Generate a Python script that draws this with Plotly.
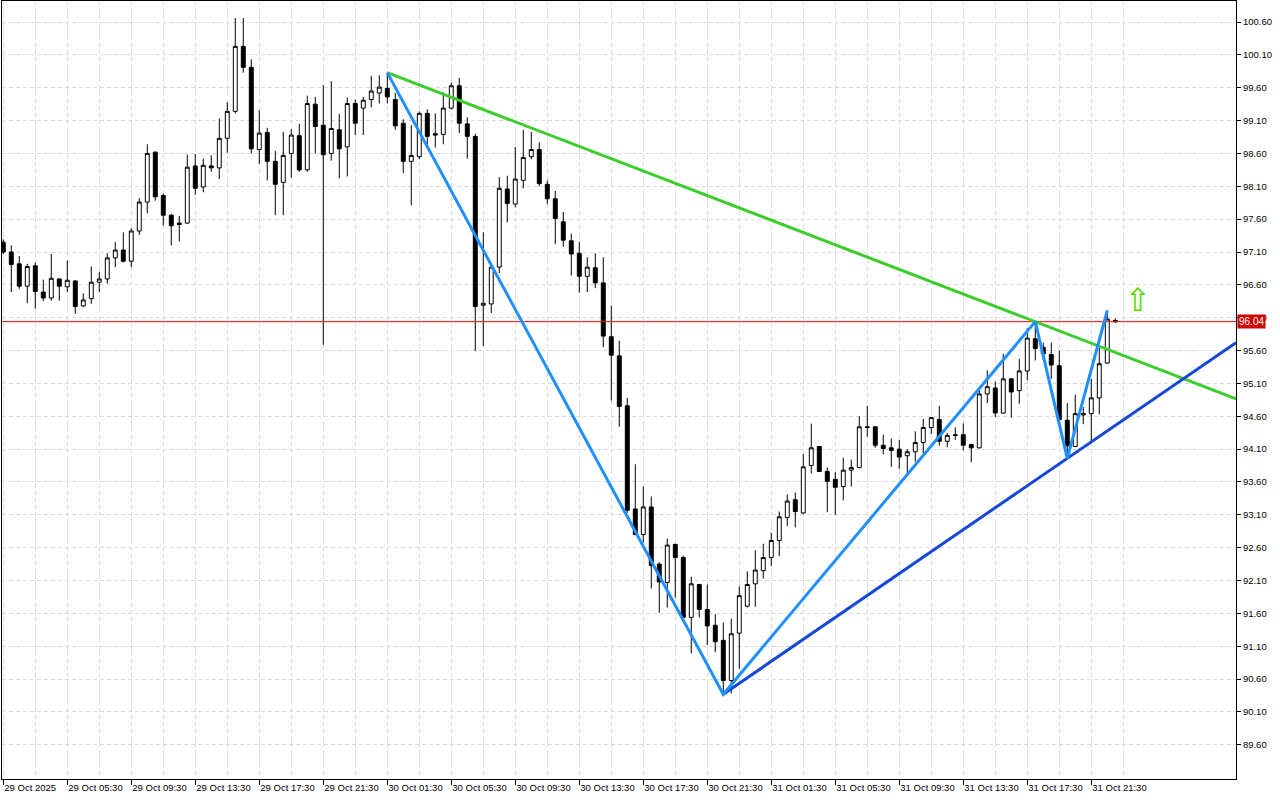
import plotly.graph_objects as go

# ---------------- data ----------------
time_labels = ["29 Oct 2025", "29 Oct 05:30", "29 Oct 09:30", "29 Oct 13:30", "29 Oct 17:30",
               "29 Oct 21:30", "30 Oct 01:30", "30 Oct 05:30", "30 Oct 09:30", "30 Oct 13:30",
               "30 Oct 17:30", "30 Oct 21:30", "31 Oct 01:30", "31 Oct 05:30", "31 Oct 09:30",
               "31 Oct 13:30", "31 Oct 17:30", "31 Oct 21:30"]
label_bars = list(range(0, 137, 8))

opens = [97.25, 97.10, 96.92, 96.58, 96.89, 96.49, 96.40, 96.69, 96.57, 96.66,
         96.28, 96.39, 96.64, 96.69, 97.01, 97.13, 96.96, 97.42, 97.86, 98.62,
         97.96, 97.66, 97.54, 97.54, 98.41, 98.09, 98.41, 98.38, 98.83, 99.24,
         100.23, 99.91, 98.66, 98.92, 98.48, 98.16, 98.60, 98.87, 98.35, 99.35,
         99.03, 98.60, 98.96, 98.70, 99.36, 99.29, 99.42, 99.52, 99.59, 99.42,
         99.06, 98.48, 98.55, 99.21, 98.90, 98.89, 99.29, 99.63, 99.05, 98.86,
         96.29, 96.31, 96.87, 98.06, 97.83, 98.19, 98.55, 98.66, 98.13, 97.91,
         97.56, 97.27, 97.08, 96.73, 96.86, 96.63, 95.81, 95.52, 94.76, 93.19,
         92.80, 93.22, 92.35, 92.07, 92.65, 92.45, 91.54, 92.04, 91.66, 91.42,
         91.19, 90.58, 91.30, 91.71, 92.05, 92.25, 92.45, 92.71, 93.06, 93.33,
         93.13, 93.85, 94.14, 93.76, 93.64, 93.53, 93.78, 93.82, 94.44, 94.44,
         94.16, 94.12, 94.10, 94.00, 94.06, 94.20, 94.43, 94.55, 94.22, 94.32,
         94.32, 94.17, 94.12, 94.94, 95.03, 94.65, 95.17, 94.99, 95.29, 95.78,
         95.65, 95.54, 95.37, 94.54, 94.14, 94.62, 94.64, 94.88, 95.41, 96.06]
highs = [97.29, 97.20, 97.04, 96.92, 96.94, 96.68, 97.07, 96.70, 96.97, 96.67,
         96.47, 96.88, 96.80, 97.08, 97.25, 97.40, 97.46, 97.92, 98.74, 98.63,
         97.99, 97.68, 97.65, 98.58, 98.59, 98.52, 98.57, 99.13, 99.38, 100.66,
         100.66, 100.03, 99.26, 98.99, 98.64, 98.93, 98.97, 99.05, 99.48, 99.46,
         99.64, 99.70, 99.20, 99.45, 99.42, 99.46, 99.78, 99.79, 99.83, 99.52,
         99.12, 99.03, 99.24, 99.27, 99.21, 99.53, 99.68, 99.75, 99.15, 98.90,
         97.40, 96.88, 98.24, 98.26, 98.70, 98.96, 98.93, 98.77, 98.19, 98.03,
         97.71, 97.38, 97.25, 97.02, 97.08, 97.02, 96.28, 95.75, 94.88, 93.87,
         93.53, 93.38, 92.38, 92.74, 92.66, 92.48, 92.16, 92.05, 92.04, 91.59,
         91.46, 91.52, 92.01, 92.24, 92.56, 92.66, 92.83, 93.15, 93.41, 93.44,
         94.03, 94.49, 94.15, 93.82, 93.75, 93.97, 93.94, 94.60, 94.76, 94.45,
         94.32, 94.26, 94.24, 94.10, 94.37, 94.56, 94.59, 94.76, 94.35, 94.43,
         94.49, 94.18, 94.99, 95.30, 95.13, 95.55, 95.18, 95.47, 95.94, 96.04,
         95.72, 95.72, 95.60, 94.80, 94.93, 94.74, 95.17, 95.64, 96.21, 96.09]
lows = [97.07, 96.49, 96.54, 96.32, 96.24, 96.35, 96.36, 96.36, 96.49, 96.16,
        96.26, 96.31, 96.49, 96.62, 96.87, 96.94, 96.87, 97.36, 97.69, 97.88,
        97.50, 97.20, 97.26, 97.53, 97.97, 98.01, 98.32, 98.21, 98.61, 99.21,
        99.83, 98.60, 98.44, 98.19, 97.66, 97.66, 98.23, 98.32, 98.32, 98.60,
        95.69, 98.49, 98.22, 98.25, 98.88, 98.88, 99.30, 99.36, 99.36, 98.96,
        98.30, 97.81, 98.51, 98.73, 98.69, 98.74, 99.27, 98.91, 98.52, 95.59,
        95.67, 96.17, 96.78, 97.55, 97.78, 98.07, 98.51, 98.10, 97.83, 97.22,
        97.18, 96.74, 96.48, 96.49, 96.55, 95.65, 94.84, 94.44, 93.13, 92.79,
        92.68, 91.98, 91.61, 91.69, 91.84, 91.53, 90.99, 91.54, 91.12, 91.01,
        90.37, 90.38, 90.76, 91.69, 91.70, 92.13, 92.32, 92.47, 92.93, 92.91,
        93.11, 93.73, 93.75, 93.14, 93.10, 93.32, 93.53, 93.81, 94.29, 94.12,
        94.02, 93.83, 93.80, 93.74, 93.91, 94.04, 94.33, 94.15, 94.13, 94.24,
        94.08, 93.90, 94.11, 94.80, 94.59, 94.64, 94.58, 94.79, 95.15, 95.45,
        95.46, 95.17, 94.54, 93.96, 94.13, 94.48, 94.22, 94.63, 95.40, 96.02]
closes = [97.10, 96.91, 96.58, 96.88, 96.50, 96.40, 96.70, 96.58, 96.67, 96.27,
          96.37, 96.64, 96.69, 97.01, 97.13, 96.96, 97.42, 97.86, 98.60, 97.94,
          97.66, 97.50, 97.52, 98.39, 98.07, 98.42, 98.38, 98.83, 99.24, 100.23,
          99.91, 98.67, 98.91, 98.48, 98.13, 98.57, 98.88, 98.35, 99.36, 99.01,
          98.58, 98.98, 98.67, 99.36, 99.06, 99.41, 99.55, 99.61, 99.46, 99.02,
          98.48, 98.57, 99.21, 98.86, 98.88, 99.29, 99.63, 99.06, 98.86, 96.27,
          96.32, 96.87, 98.07, 97.84, 98.21, 98.54, 98.66, 98.14, 97.91, 97.61,
          97.28, 97.07, 96.73, 96.87, 96.63, 95.82, 95.53, 94.75, 93.17, 92.80,
          93.22, 92.33, 92.08, 92.64, 92.45, 91.54, 92.05, 91.66, 91.41, 91.17,
          90.58, 91.29, 91.87, 92.04, 92.26, 92.45, 92.71, 93.07, 93.31, 93.15,
          93.83, 94.12, 93.76, 93.61, 93.52, 93.78, 93.82, 94.44, 94.43, 94.16,
          94.11, 94.08, 93.98, 94.06, 94.20, 94.43, 94.58, 94.22, 94.31, 94.31,
          94.16, 94.12, 94.94, 95.05, 94.65, 95.17, 94.97, 95.29, 95.79, 95.63,
          95.55, 95.38, 94.55, 94.15, 94.64, 94.64, 94.88, 95.40, 96.08, 96.04]
bars = list(range(len(closes)))

zigzag_bars = [48, 90, 129, 133, 138]
zigzag_prices = [99.83, 90.37, 96.04, 93.96, 96.21]
resistance_bars = [48, 129]
resistance_prices = [99.83, 96.04]
support_bars = [90, 133]
support_prices = [90.37, 93.96]
signal_bar = [141.8]
signal_price = [96.33]

price_ticks = [89.6 + 0.5 * k for k in range(23)]

# ---------------- view ----------------
X_MIN, X_MAX = -0.16, 154.09
Y_MIN, Y_MAX = 89.08, 100.92


def extend(bx, py, x_end):
    slope = (py[1] - py[0]) / (bx[1] - bx[0])
    return [bx[0], x_end], [py[0], py[1] + slope * (x_end - bx[1])]


FONT = "Liberation Sans"
GRID = "#dadada"

fig = go.Figure()

# current price line
fig.add_trace(go.Scatter(x=[X_MIN, X_MAX], y=[closes[-1], closes[-1]], mode="lines",
                         line=dict(color="#ff0000", width=1), hoverinfo="skip", showlegend=False))

fig.add_trace(go.Candlestick(
    x=bars, open=opens, high=highs, low=lows, close=closes,
    increasing=dict(line=dict(color="black", width=1), fillcolor="white"),
    decreasing=dict(line=dict(color="black", width=1), fillcolor="black"),
    whiskerwidth=0, showlegend=False))

rx, ry = extend(resistance_bars, resistance_prices, X_MAX)
fig.add_trace(go.Scatter(x=rx, y=ry, mode="lines", line=dict(color="#3ccc2c", width=3),
                         hoverinfo="skip", showlegend=False))
sx, sy = extend(support_bars, support_prices, X_MAX)
fig.add_trace(go.Scatter(x=sx, y=sy, mode="lines", line=dict(color="#1448d8", width=3),
                         hoverinfo="skip", showlegend=False))
fig.add_trace(go.Scatter(x=zigzag_bars, y=zigzag_prices, mode="lines",
                         line=dict(color="#1e90ff", width=3), hoverinfo="skip", showlegend=False))

fig.add_trace(go.Scatter(x=signal_bar, y=signal_price, mode="text", text=["⇧"],
                         textfont=dict(family="DejaVu Sans", size=32, color="#5ad800"),
                         textposition="middle center", hoverinfo="skip", showlegend=False))

fig.add_annotation(xref="paper", x=1, xanchor="left", xshift=1, yref="y", y=closes[-1],
                   text=f"{closes[-1]:.2f}", showarrow=False, bgcolor="#d40000",
                   font=dict(family=FONT, size=10, color="white"), borderpad=1)

fig.update_layout(
    width=1280, height=800,
    margin=dict(l=2, r=44, t=1, b=21, autoexpand=False),
    paper_bgcolor="white", plot_bgcolor="white",
    font=dict(family=FONT, size=9.5, color="black"),
    showlegend=False,
    xaxis=dict(range=[X_MIN, X_MAX], rangeslider=dict(visible=False), automargin=False,
               tickmode="array", tickvals=label_bars, ticktext=time_labels, tickangle=0,
               ticks="outside", ticklen=5, tickcolor="black",
               ticklabelposition="outside right",
               showline=True, linecolor="black", linewidth=1, mirror=True,
               showgrid=True, gridcolor=GRID, griddash="4px,3px", zeroline=False,
               minor=dict(tickmode="array", tickvals=[b + 4 for b in label_bars],
                          showgrid=True, gridcolor=GRID, griddash="4px,3px", ticks="")),
    yaxis=dict(range=[Y_MIN, Y_MAX], side="right", automargin=False,
               tickmode="array", tickvals=price_ticks,
               ticktext=[f"{v:.2f}" for v in price_ticks],
               ticks="outside", ticklen=4, tickcolor="black",
               showline=True, linecolor="black", linewidth=1, mirror=True,
               showgrid=True, gridcolor=GRID, griddash="4px,3px", zeroline=False),
)

fig.write_html("out.html", config={"displayModeBar": False},
               post_script="document.body.style.margin='0';")
